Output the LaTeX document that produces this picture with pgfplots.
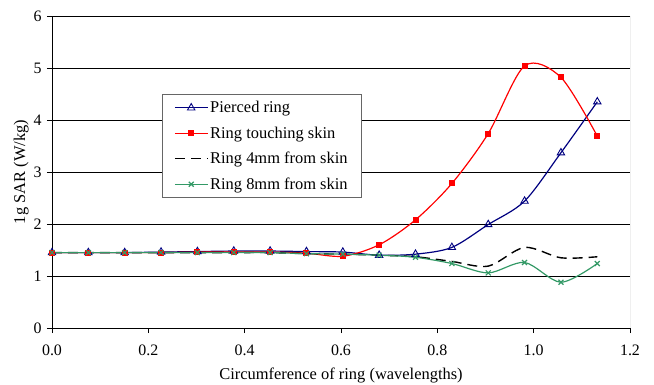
\documentclass[border=0pt]{standalone}
\usepackage{pgfplots}
\pgfplotsset{compat=1.18}
\usepackage{fontspec}
\setmainfont{Liberation Serif}
\definecolor{navyc}{RGB}{0,0,128}
\definecolor{greenc}{RGB}{51,153,102}
\begin{document}
\begin{tikzpicture}
\useasboundingbox (-52bp,-57bp) rectangle (602bp,328bp);
\begin{axis}[
  at={(0,0)}, anchor=south west,
  scale only axis, width=578bp, height=312bp,
  xmin=0, xmax=1.2, ymin=0, ymax=6,
  xtick={0,0.2,0.4,0.6,0.8,1.0,1.2},
  xticklabels={0.0,0.2,0.4,0.6,0.8,1.0,1.2},
  ytick={0,1,2,3,4,5,6},
  /pgf/number format/assume math mode=true,
  tick label style={font=\fontsize{16}{18}\selectfont},
  xticklabel style={yshift=-8bp},
  yticklabel style={xshift=-2bp},
  label style={font=\fontsize{16.5}{18}\selectfont},
  xlabel={Circumference of ring (wavelengths)},
  ylabel={1g SAR (W/kg)},
  xlabel style={yshift=-6bp},
  ylabel style={yshift=-2bp},
  axis x line*=bottom, axis y line*=left,
  axis line style={black, line width=0.8pt, -},
  tick align=outside, major tick length=5bp,
  tick style={black, line width=0.8pt},
  ymajorgrids, grid style={black, line width=0.8pt},
  legend style={at={(rel axis cs:0.19,0.75)}, anchor=north west,
    draw=gray!80!black, line width=0.8pt, fill=white,
    font=\fontsize{16.5}{18}\selectfont, row sep=8.5bp,
    inner xsep=12bp, inner ysep=5bp},
  legend cell align=left,
  legend image code/.code={\draw[#1] (0cm,0cm) -- (0.5*1.15cm,0cm) -- (1.15cm,0cm);
     \draw[#1, only marks] plot coordinates {(0.575cm,0cm)};},
]
\draw[gray, line width=0.8pt] (rel axis cs:1,0) -- (rel axis cs:1,1);
\addplot[navyc, line width=1.2pt, smooth, mark=triangle, mark size=4.3pt, mark options={solid, fill=white, line width=0.9pt}] coordinates {
(0,1.45) (0.0755,1.45) (0.1509,1.45) (0.2264,1.46) (0.3019,1.47) (0.3774,1.48) (0.4528,1.48) (0.5283,1.47)
(0.6038,1.46) (0.6792,1.40) (0.7547,1.42) (0.8302,1.55) (0.9057,1.99) (0.9811,2.44) (1.0566,3.37) (1.1321,4.35)};
\addlegendentry{Pierced ring}
\addplot[red, line width=1.2pt, smooth, mark=square*, mark size=2.4pt, mark options={solid}] coordinates {
(0,1.45) (0.0755,1.45) (0.1509,1.45) (0.2264,1.45) (0.3019,1.46) (0.3774,1.46) (0.4528,1.46) (0.5283,1.44)
(0.6038,1.38) (0.6792,1.60) (0.7547,2.08) (0.8302,2.78) (0.9057,3.74) (0.9811,5.04) (1.0566,4.82) (1.1321,3.69)};
\addlegendentry{Ring touching skin}
\addplot[black, line width=1.4pt, smooth, dash pattern=on 10bp off 6bp] coordinates {
(0,1.45) (0.0755,1.45) (0.1509,1.45) (0.2264,1.45) (0.3019,1.45) (0.3774,1.45) (0.4528,1.45) (0.5283,1.43)
(0.6038,1.42) (0.6792,1.40) (0.7547,1.37) (0.8302,1.28) (0.9057,1.19) (0.9811,1.55) (1.0566,1.35) (1.1321,1.37)};
\addlegendentry{Ring 4mm from skin}
\addplot[greenc, line width=1.2pt, smooth, mark=x, mark size=3.5pt, mark options={solid}] coordinates {
(0,1.45) (0.0755,1.45) (0.1509,1.45) (0.2264,1.45) (0.3019,1.45) (0.3774,1.45) (0.4528,1.45) (0.5283,1.43)
(0.6038,1.42) (0.6792,1.40) (0.7547,1.36) (0.8302,1.24) (0.9057,1.06) (0.9811,1.26) (1.0566,0.88) (1.1321,1.24)};
\addlegendentry{Ring 8mm from skin}
\end{axis}
\end{tikzpicture}
\end{document}
